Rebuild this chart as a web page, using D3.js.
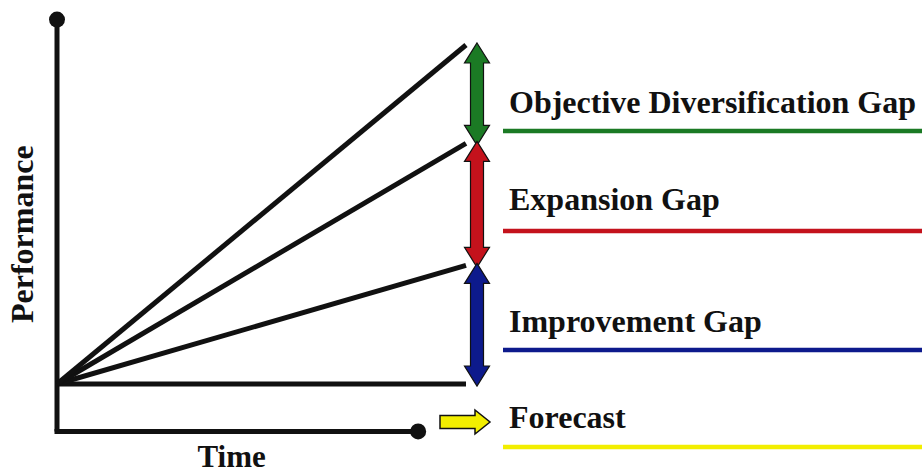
<!DOCTYPE html>
<html>
<head>
<meta charset="utf-8">
<script src="https://cdn.jsdelivr.net/npm/d3@7"></script>
<style>
  html, body { margin: 0; padding: 0; background: #fff; }
  svg { display: block; }
  text { font-family: "Liberation Serif", "Times New Roman", serif; font-weight: bold; fill: #111; }
</style>
</head>
<body>
<svg id="chart" width="922" height="475"></svg>
<script>
// ---- data ----
const scenarios = ["Forecast", "Improvement", "Expansion", "Objective Diversification"];
const startValues = [0, 0, 0, 0];          // performance at time 0
const endValues = [0, 35, 71, 100];        // performance at forecast horizon
const gapLabels = ["Objective Diversification Gap", "Expansion Gap", "Improvement Gap"];
const gapFrom = [71, 35, 0];
const gapTo = [100, 71, 35];
const gapColors = ["#1b7a24", "#c4121c", "#0d1a8c"];
const legendLabels = ["Objective Diversification Gap", "Expansion Gap", "Improvement Gap", "Forecast"];
const legendColors = ["#1b7a24", "#c4121c", "#0d1a8c", "#f2ee00"];
const axisTitles = ["Performance", "Time"];
const timeDomain = [0, 1];
const perfDomain = [0, 100];
const axisPerfExtent = [-14, 107.5];
const axisTimeEnd = 0.883;

// ---- scales ----
const svg = d3.select("#chart");
const x = d3.scaleLinear().domain(timeDomain).range([57, 466]);
const y = d3.scaleLinear().domain(perfDomain).range([384, 45]);

// ---- axes (line + end dots) ----
const ax = svg.append("g");
ax.append("line")
  .attr("x1", x(0)).attr("x2", x(0))
  .attr("y1", y(axisPerfExtent[1])).attr("y2", y(axisPerfExtent[0]))
  .attr("stroke", "#111").attr("stroke-width", 5);
ax.append("line")
  .attr("x1", x(0) - 2.5).attr("x2", x(axisTimeEnd))
  .attr("y1", y(axisPerfExtent[0])).attr("y2", y(axisPerfExtent[0]))
  .attr("stroke", "#111").attr("stroke-width", 5);
ax.append("circle").attr("cx", x(0)).attr("cy", y(axisPerfExtent[1])).attr("r", 8).attr("fill", "#111");
ax.append("circle").attr("cx", x(axisTimeEnd)).attr("cy", y(axisPerfExtent[0])).attr("r", 8).attr("fill", "#111");

ax.append("text")
  .attr("transform", `translate(33,${(y(perfDomain[1]) + y(axisPerfExtent[0])) / 2 - 4}) rotate(-90)`)
  .attr("text-anchor", "middle").attr("font-size", 32).text(axisTitles[0]);
ax.append("text")
  .attr("x", (x(0) + x(axisTimeEnd)) / 2 - 6).attr("y", 467)
  .attr("text-anchor", "middle").attr("font-size", 31).text(axisTitles[1]);

// ---- performance lines ----
const lineGen = d3.line().x(d => x(d[0])).y(d => y(d[1]));
svg.append("g").selectAll("path")
  .data(scenarios.map((s, i) => [[timeDomain[0], startValues[i]], [timeDomain[1], endValues[i]]]))
  .join("path")
  .attr("d", lineGen)
  .attr("fill", "none").attr("stroke", "#111").attr("stroke-width", 5)
  .attr("stroke-linecap", "butt");

// ---- gap double arrows ----
const ax0 = x(timeDomain[1]) + 11;
function doubleArrow(y1, y2) {
  const hw = 12.5, sw = 6.5, hl = 20;
  return d3.line()([
    [ax0, y1], [ax0 + hw, y1 + hl], [ax0 + sw, y1 + hl], [ax0 + sw, y2 - hl],
    [ax0 + hw, y2 - hl], [ax0, y2], [ax0 - hw, y2 - hl], [ax0 - sw, y2 - hl],
    [ax0 - sw, y1 + hl], [ax0 - hw, y1 + hl]
  ]) + "Z";
}
svg.append("g").selectAll("path")
  .data(gapLabels.map((l, i) => ({ from: gapFrom[i], to: gapTo[i], color: gapColors[i] })))
  .join("path")
  .attr("d", d => doubleArrow(y(d.to) - 2, y(d.from) + 2))
  .attr("fill", d => d.color).attr("stroke", "#111").attr("stroke-width", 1.2)
  .attr("stroke-linejoin", "miter");

// ---- forecast arrow ----
(function () {
  const cy = 422, x0 = 440, xs = 475, xe = 490, sh = 6.5, hh = 12;
  svg.append("path")
    .attr("d", d3.line()([[x0, cy - sh], [xs, cy - sh], [xs, cy - hh], [xe, cy], [xs, cy + hh], [xs, cy + sh], [x0, cy + sh]]) + "Z")
    .attr("fill", legendColors[3]).attr("stroke", "#111").attr("stroke-width", 1.5);
})();

// ---- legend ----
const legendTextY = [113, 210, 332, 428];
const legendLineY = [131, 231, 350, 447];
const lg = svg.append("g");
legendLabels.forEach((l, i) => {
  lg.append("text").attr("x", 509).attr("y", legendTextY[i]).attr("font-size", 32).text(l);
  lg.append("line").attr("x1", 503).attr("x2", 922)
    .attr("y1", legendLineY[i]).attr("y2", legendLineY[i])
    .attr("stroke", legendColors[i]).attr("stroke-width", 4.5);
});
</script>
</body>
</html>
